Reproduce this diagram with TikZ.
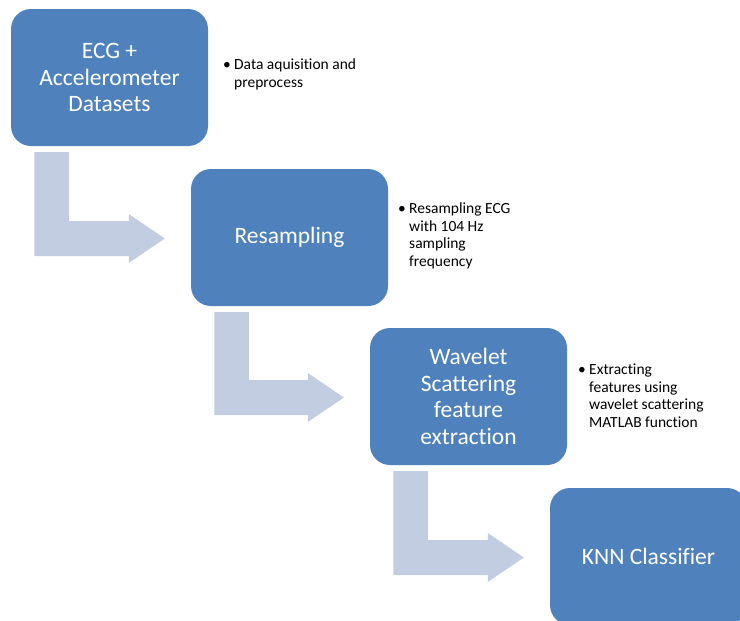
\documentclass[tikz,border=0pt]{standalone}
\usepackage{fontspec}
\setmainfont{Carlito}[Ligatures=NoCommon]
\usetikzlibrary{calc}
\definecolor{stepblue}{HTML}{4F81BD}
\definecolor{bendfill}{HTML}{C3CDE2}
\tikzset{
  stepbox/.style={rectangle, rounded corners=20pt, fill=stepblue, draw=none,
    minimum width=197pt, minimum height=137pt, inner sep=4pt, text=white,
    align=center, font=\fontsize{23.5}{26.5}\selectfont},
  note/.style={anchor=north west, inner sep=0pt, align=left,
    font=\fontsize{15.5}{17.4}\selectfont},
}
% L-shaped bent arrow from the bottom of one step to the left side of the next
\newcommand{\bendarrow}[2]{%
  \coordinate (sA) at ($(#1.south west)+(23.5,6)$);
  \coordinate (sB) at ($(#1.south west)+(58,6)$);
  \coordinate (tip) at ($(#2.west)+(-26,1)$);
  \fill[bendfill] (sA) -- (sB) -- (sB |- {$(tip)+(0,-17.5)$})
    -- ($(tip)+(-36,-17.5)$) -- ($(tip)+(-36,-24.5)$) -- (tip)
    -- ($(tip)+(-36,24.5)$) -- ($(tip)+(-36,17.5)$)
    -- (sA |- {$(tip)+(0,17.5)$}) -- cycle;
}
\newcommand{\bul}{\makebox[11pt][l]{\textbullet}}
\newcommand{\ind}{\hspace*{11pt}}
\begin{document}
\begin{tikzpicture}[x=1pt, y=-1pt]
  \useasboundingbox (0,0) rectangle (740,621);
  \clip (0,0) rectangle (740,621);
  \node[stepbox] (b1) at (109.5,77.5) {ECG +\\Accelerometer\\Datasets};
  \node[stepbox] (b2) at (289.5,237.5) {Resampling};
  \node[stepbox] (b3) at (468.5,396.5) {Wavelet\\Scattering\\feature\\extraction};
  \node[stepbox] (b4) at (648.5,556.5) {KNN Classifier};

  \bendarrow{b1}{b2}
  \bendarrow{b2}{b3}
  \bendarrow{b3}{b4}

  \node[note] (n1) at (223,59) {\bul Data aquisition and\\\ind preprocess};
  \node[note] (n2) at (398,203) {\bul Resampling ECG\\\ind with 104 Hz\\\ind sampling\\\ind frequency};
  \node[note] (n3) at (578,364) {\bul Extracting\\\ind features using\\\ind wavelet scattering\\\ind MATLAB function};
\end{tikzpicture}
\end{document}
